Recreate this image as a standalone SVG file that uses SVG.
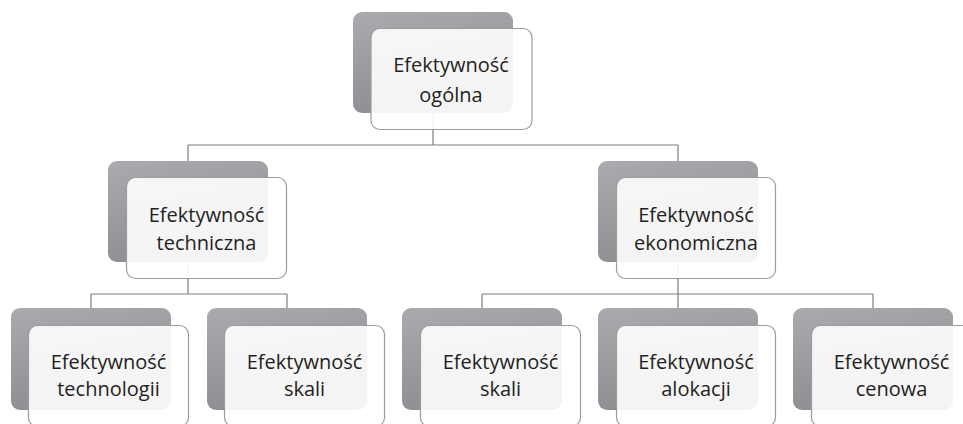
<svg xmlns="http://www.w3.org/2000/svg" width="963" height="424" viewBox="0 0 963 424">
<style>
.back{fill:url(#g);}
.front{fill:#ffffff;fill-opacity:0.9;stroke:#9c9c9c;stroke-width:1.2;}
.lbl{font-family:"Open Sans","Noto Sans",sans-serif;font-size:20px;fill:#231f20;text-anchor:middle;}
.conn{fill:none;stroke:#7f7f7f;stroke-width:1.2;}
</style>
<defs>
<linearGradient id="g" x1="0" y1="0" x2="0.3" y2="1">
<stop offset="0" stop-color="#ababaf"/>
<stop offset="1" stop-color="#8e8e92"/>
</linearGradient>
</defs>
<rect width="963" height="424" fill="#ffffff"/>
<g id="connectors">
<path class="conn" d="M433,112 V145 M188,145 H678 M188,145 V161 M678,145 V161"/>
<path class="conn" d="M188,262 V294 M91,294 H287 M91,294 V308 M287,294 V308"/>
<path class="conn" d="M678,262 V294 M482,294 H873 M482,294 V308 M678,294 V308 M873,294 V308"/>
</g>
<g id="n-ogolna">
<rect class="back" x="353" y="12" width="160" height="101" rx="9"/>
<rect class="front" x="371" y="28.5" width="161" height="101" rx="9"/>
<text class="lbl" x="451" y="72">Efektywność</text>
<text class="lbl" x="451" y="102">ogólna</text>
</g>
<g id="n-techniczna">
<rect class="back" x="108" y="161" width="160" height="101" rx="9"/>
<rect class="front" x="126.5" y="177.5" width="160" height="101" rx="9"/>
<text class="lbl" x="206.5" y="222">Efektywność</text>
<text class="lbl" x="206.5" y="250">techniczna</text>
</g>
<g id="n-ekonomiczna">
<rect class="back" x="598" y="161" width="160" height="101" rx="9"/>
<rect class="front" x="616.5" y="177.5" width="159" height="101" rx="9"/>
<text class="lbl" x="696" y="222">Efektywność</text>
<text class="lbl" x="696" y="250">ekonomiczna</text>
</g>
<g id="n-technologii">
<rect class="back" x="11" y="308" width="160" height="102" rx="9"/>
<rect class="front" x="28.5" y="325.5" width="160" height="101" rx="9"/>
<text class="lbl" x="108.5" y="369">Efektywność</text>
<text class="lbl" x="108.5" y="396">technologii</text>
</g>
<g id="n-skali-1">
<rect class="back" x="207" y="308" width="160" height="102" rx="9"/>
<rect class="front" x="224.5" y="325.5" width="160" height="101" rx="9"/>
<text class="lbl" x="304.5" y="369">Efektywność</text>
<text class="lbl" x="304.5" y="396">skali</text>
</g>
<g id="n-skali-2">
<rect class="back" x="402" y="308" width="160" height="102" rx="9"/>
<rect class="front" x="420.5" y="325.5" width="160" height="101" rx="9"/>
<text class="lbl" x="500.5" y="369">Efektywność</text>
<text class="lbl" x="500.5" y="396">skali</text>
</g>
<g id="n-alokacji">
<rect class="back" x="598" y="308" width="160" height="102" rx="9"/>
<rect class="front" x="616.5" y="325.5" width="159" height="101" rx="9"/>
<text class="lbl" x="696" y="369">Efektywność</text>
<text class="lbl" x="696" y="396">alokacji</text>
</g>
<g id="n-cenowa">
<rect class="back" x="793" y="308" width="160" height="102" rx="9"/>
<rect class="front" x="811.5" y="325.5" width="160" height="101" rx="9"/>
<text class="lbl" x="891.5" y="369">Efektywność</text>
<text class="lbl" x="891.5" y="396">cenowa</text>
</g>
</svg>
